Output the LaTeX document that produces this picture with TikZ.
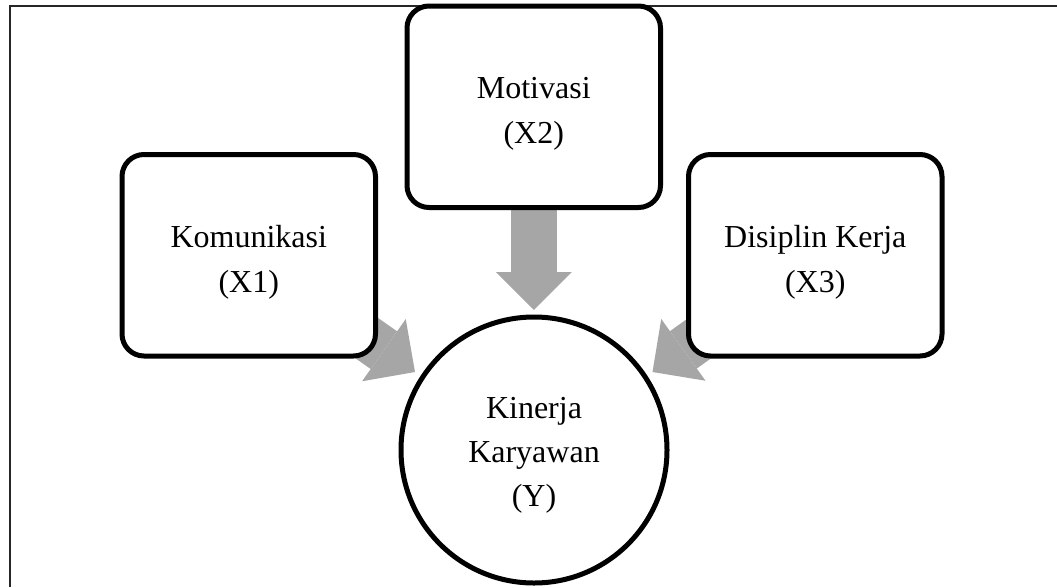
\documentclass[tikz,border=0pt]{standalone}
\usepackage{fontspec}
\setmainfont{Liberation Serif}
\usetikzlibrary{arrows.meta}
\definecolor{arrowgray}{RGB}{166,166,166}
\tikzset{
  every node/.style={font=\fontsize{32}{45}\selectfont},
  varbox/.style={draw=black, line width=5pt, fill=white, rounded corners=22pt,
    minimum width=253.5pt, minimum height=201.5pt, inner sep=0pt},
  varcircle/.style={circle, draw=black, line width=5pt, fill=white,
    minimum size=266pt, inner sep=0pt},
  lbl/.style={anchor=base, inner sep=0pt},
  fatarrow/.style={draw=arrowgray, line width=46pt,
    -{Triangle[width=76pt,length=38pt,line width=0pt]}},
  frameline/.style={draw=black!85, line width=2pt}
}
\begin{document}
\begin{tikzpicture}[x=1pt,y=-1pt]
\useasboundingbox (0,0) rectangle (1057,587);

% outer frame (top and left edges)
\coordinate (ftl) at (10,6);
\coordinate (ftr) at (1057,6);
\coordinate (fbl) at (10,587);
\draw[frameline] (ftr) -- (ftl) -- (fbl);

% arrow tips
\coordinate (tipA) at (415,372);
\coordinate (tipB) at (533.75,310);
\coordinate (tipC) at (652.5,372);

% shape anchors (invisible placeholders for arrow starts)
\coordinate (cA) at (248.75,255.25);
\coordinate (cB) at (533.75,106.75);
\coordinate (cC) at (815.25,255.25);

% arrows drawn first, boxes cover their tails
\draw[fatarrow] (cA) -- (tipA);
\draw[fatarrow] (cB) -- (tipB);
\draw[fatarrow] (cC) -- (tipC);

% variable boxes
\node[varbox] (x1) at (cA) {};
\node[varbox] (x2) at (cB) {};
\node[varbox] (x3) at (cC) {};
\node[varcircle] (y) at (534,450) {};

% labels
\node[lbl] (x1a) at (248.75,247) {Komunikasi};
\node[lbl] (x1b) at (248.75,292) {(X1)};
\node[lbl] (x2a) at (533.75,98.5) {Motivasi};
\node[lbl] (x2b) at (533.75,143.5) {(X2)};
\node[lbl] (x3a) at (815.25,247) {Disiplin Kerja};
\node[lbl] (x3b) at (815.25,292) {(X3)};
\node[lbl] (ya) at (534,418) {Kinerja};
\node[lbl] (yb) at (534,462) {Karyawan};
\node[lbl] (yc) at (534,506) {(Y)};
\end{tikzpicture}
\end{document}
